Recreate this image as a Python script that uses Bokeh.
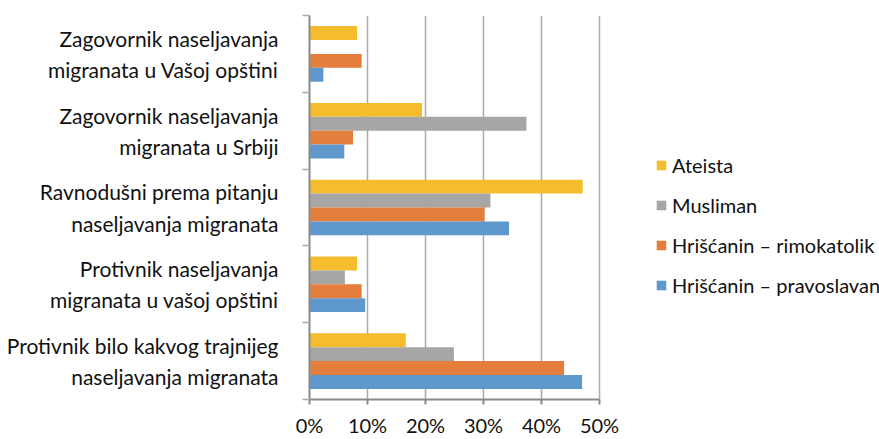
from bokeh.plotting import figure
from bokeh.models import (ColumnDataSource, FixedTicker, Range1d,
                          Legend, LegendItem)
from bokeh.transform import dodge
from bokeh.embed import file_html
from bokeh.resources import INLINE

# ---- data (bottom category first) ----
categories = [
    "Protivnik bilo kakvog trajnijeg\nnaseljavanja migranata",
    "Protivnik naseljavanja\nmigranata u vašoj opštini",
    "Ravnodušni prema pitanju\nnaseljavanja migranata",
    "Zagovornik naseljavanja\nmigranata u Srbiji",
    "Zagovornik naseljavanja\nmigranata u Vašoj opštini",
]
series_names = ["Ateista", "Musliman", "Hrišćanin – rimokatolik", "Hrišćanin – pravoslavan"]
ateista = [0.166, 0.082, 0.471, 0.194, 0.082]
musliman = [0.249, 0.061, 0.312, 0.374, 0.0]
rimokatolik = [0.439, 0.090, 0.302, 0.075, 0.090]
pravoslavan = [0.470, 0.096, 0.344, 0.060, 0.024]
x_ticks = [0.0, 0.1, 0.2, 0.3, 0.4, 0.5]
x_tick_labels = ["0%", "10%", "20%", "30%", "40%", "50%"]

colors = ["#F5BC2D", "#A6A6A5", "#E47E3C", "#5F98CC"]
FONT = "Lato"

W, H = 879, 439
LEFT, TOP, BOTTOM = 309, 15, 37
AXIS_PX = 290          # pixel length of the 0..50% axis
x_end = 0.5 * (W - LEFT) / AXIS_PX   # frame extends right to hold the legend

centers = [i + 0.5 for i in range(len(categories))]
bounds = [float(i) for i in range(len(categories) + 1)]
src = ColumnDataSource(dict(y=centers, a=ateista, m=musliman, r=rimokatolik, p=pravoslavan))

p = figure(width=W, height=H, output_backend="svg", toolbar_location=None,
           x_range=Range1d(0, x_end), y_range=Range1d(0, len(categories)),
           min_border_left=LEFT, min_border_right=0, min_border_top=TOP,
           min_border_bottom=BOTTOM)
p.outline_line_color = None
p.background_fill_color = "white"

bh = 0.181
offsets = [1.5 * bh, 0.5 * bh, -0.5 * bh, -1.5 * bh]
renderers = []
for col, off, c in zip(["a", "m", "r", "p"], offsets, colors):
    r = p.hbar(y=dodge("y", off), right=col, left=0, height=bh, source=src,
               fill_color=c, line_color=None)
    renderers.append(r)

# x axis
p.xaxis.bounds = (x_ticks[0], x_ticks[-1])
p.xaxis.ticker = FixedTicker(ticks=x_ticks)
p.xaxis.major_label_overrides = {t: l for t, l in zip(x_ticks, x_tick_labels)}
p.xaxis.minor_tick_line_color = None
p.xaxis.major_tick_in = 0
p.xaxis.major_tick_out = 5
p.xaxis.major_label_standoff = 8
p.xaxis.axis_line_color = "#8A8A8A"
p.xaxis.axis_line_width = 2
p.xaxis.major_tick_line_color = "#8A8A8A"
p.xaxis.major_tick_line_width = 2
p.xaxis.major_label_text_font = FONT
p.xaxis.major_label_text_font_size = "20px"
p.xaxis.major_label_text_color = "#111111"

# grid
p.ygrid.grid_line_color = None
p.xgrid.ticker = FixedTicker(ticks=x_ticks[1:])
p.xgrid.grid_line_color = "#ABABAB"
p.xgrid.grid_line_width = 1.5

# y axis: labels at category centres, ticks (minor) at category boundaries
ya = p.yaxis[0]
ya.ticker = FixedTicker(ticks=centers, minor_ticks=bounds)
ya.major_label_overrides = {c: t for c, t in zip(centers, categories)}
ya.major_tick_line_color = None
ya.major_tick_in = 0
ya.major_tick_out = 0
ya.minor_tick_in = 0
ya.minor_tick_out = 7
ya.minor_tick_line_color = "#ABABAB"
ya.minor_tick_line_width = 1.5
ya.axis_line_color = "#8A8A8A"
ya.axis_line_width = 2
ya.major_label_standoff = 24
ya.major_label_text_font = FONT
ya.major_label_text_font_size = "21px"
ya.major_label_text_line_height = 1.25
ya.major_label_text_color = "#111111"
ya.major_label_text_align = "right"

legend = Legend(items=[LegendItem(label=n, renderers=[r]) for n, r in zip(series_names, renderers)],
                location=(346, 102), orientation="vertical",
                glyph_width=12, glyph_height=12, label_height=20, label_standoff=5,
                spacing=16, padding=0, margin=0,
                border_line_color=None, background_fill_alpha=0,
                label_text_font=FONT, label_text_font_size="20px",
                label_text_color="#111111")
p.add_layout(legend, "center")

open("out.html", "w").write(file_html(p, INLINE))
